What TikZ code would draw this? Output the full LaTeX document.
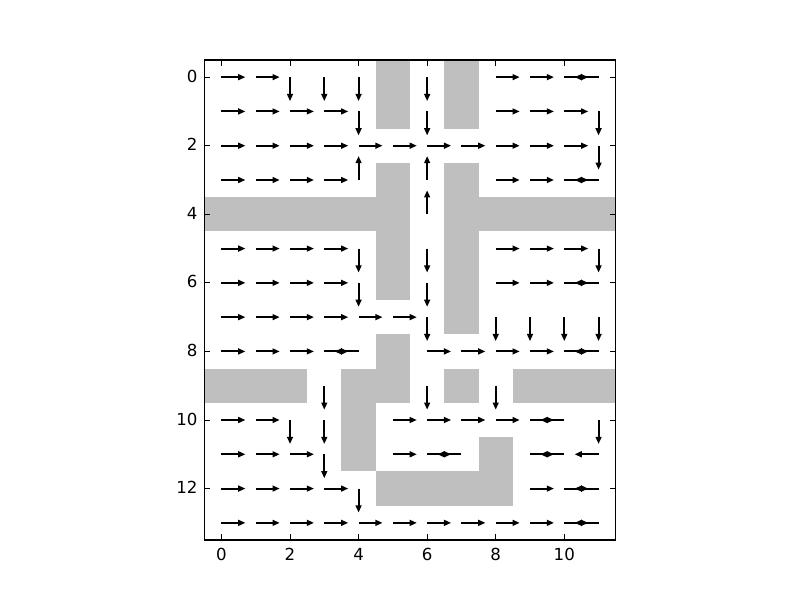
\documentclass[tikz,border=0pt]{standalone}
\usepackage{fontspec}
\setmainfont{DejaVu Sans}
\usetikzlibrary{arrows.meta}
\tikzset{
  wall/.style={fill=wallgray, draw=none},
  qarrow/.style={line width=1.4pt, -{Triangle[length=5.2pt,width=4.2pt]}},
  axframe/.style={draw=black, line width=1pt},
  tickmark/.style={draw=black, line width=0.6pt},
  ticklabel/.style={inner sep=0pt, font=\fontsize{12}{14}\selectfont}
}
\definecolor{wallgray}{RGB}{191,191,191}
\begin{document}
\begin{tikzpicture}[x=0.342857in, y=-0.342857in]
\useasboundingbox (-6.4584,-2.25) rectangle (16.875,15.25);
% walls
\fill[wall] (4.5,-0.5) rectangle (5.5,1.5);
\fill[wall] (6.5,-0.5) rectangle (7.5,1.5);
\fill[wall] (4.5,2.5) rectangle (5.5,6.5);
\fill[wall] (6.5,2.5) rectangle (7.5,7.5);
\fill[wall] (-0.5,3.5) rectangle (4.5,4.5);
\fill[wall] (7.5,3.5) rectangle (11.5,4.5);
\fill[wall] (4.5,7.5) rectangle (5.5,9.5);
\fill[wall] (3.5,8.5) rectangle (4.5,11.5);
\fill[wall] (-0.5,8.5) rectangle (2.5,9.5);
\fill[wall] (6.5,8.5) rectangle (7.5,9.5);
\fill[wall] (8.5,8.5) rectangle (11.5,9.5);
\fill[wall] (4.5,11.5) rectangle (8.5,12.5);
\fill[wall] (7.5,10.5) rectangle (8.5,11.5);
% right arrows
\foreach \r/\cs in {0/{0,1,8,9,10}, 1/{0,1,2,3,8,9,10}, 2/{0,1,2,3,4,5,6,7,8,9,10},
  3/{0,1,2,3,8,9,10}, 5/{0,1,2,3,8,9,10}, 6/{0,1,2,3,8,9,10}, 7/{0,1,2,3,4,5},
  8/{0,1,2,3,6,7,8,9,10}, 10/{0,1,5,6,7,8,9}, 11/{0,1,2,5,6,9}, 12/{0,1,2,3,9,10},
  13/{0,1,2,3,4,5,6,7,8,9,10}}{
  \foreach \c in \cs {\draw[qarrow] (\c,\r) -- ++(0.7,0);}
}
% left arrows
\foreach \r/\cs in {0/{11}, 3/{11}, 6/{11}, 8/{4,11}, 10/{10}, 11/{7,10,11}, 12/{11}, 13/{11}}{
  \foreach \c in \cs {\draw[qarrow] (\c,\r) -- ++(-0.7,0);}
}
% down arrows
\foreach \r/\cs in {0/{2,3,4,6}, 1/{4,6,11}, 2/{11}, 5/{4,6,11}, 6/{4,6}, 7/{6,8,9,10,11},
  9/{3,6,8}, 10/{2,3,11}, 11/{3}, 12/{4}}{
  \foreach \c in \cs {\draw[qarrow] (\c,\r) -- ++(0,0.7);}
}
% up arrows
\foreach \r/\cs in {3/{4,6}, 4/{6}}{
  \foreach \c in \cs {\draw[qarrow] (\c,\r) -- ++(0,-0.7);}
}
% frame
\draw[axframe] (-0.5,-0.5) rectangle (11.5,13.5);
% ticks and labels
\foreach \x in {0,2,4,6,8,10}{
  \draw[tickmark] (\x,13.5) -- (\x,13.338);
  \draw[tickmark] (\x,-0.5) -- (\x,-0.338);
  \node[ticklabel, anchor=north] (xl\x) at (\x,13.733) {\x};
}
\foreach \y in {0,2,4,6,8,10,12}{
  \draw[tickmark] (-0.5,\y) -- (-0.338,\y);
  \draw[tickmark] (11.5,\y) -- (11.338,\y);
  \node[ticklabel, anchor=east] (yl\y) at (-0.6925,\y-0.03) {\y};
}
\end{tikzpicture}
\end{document}
